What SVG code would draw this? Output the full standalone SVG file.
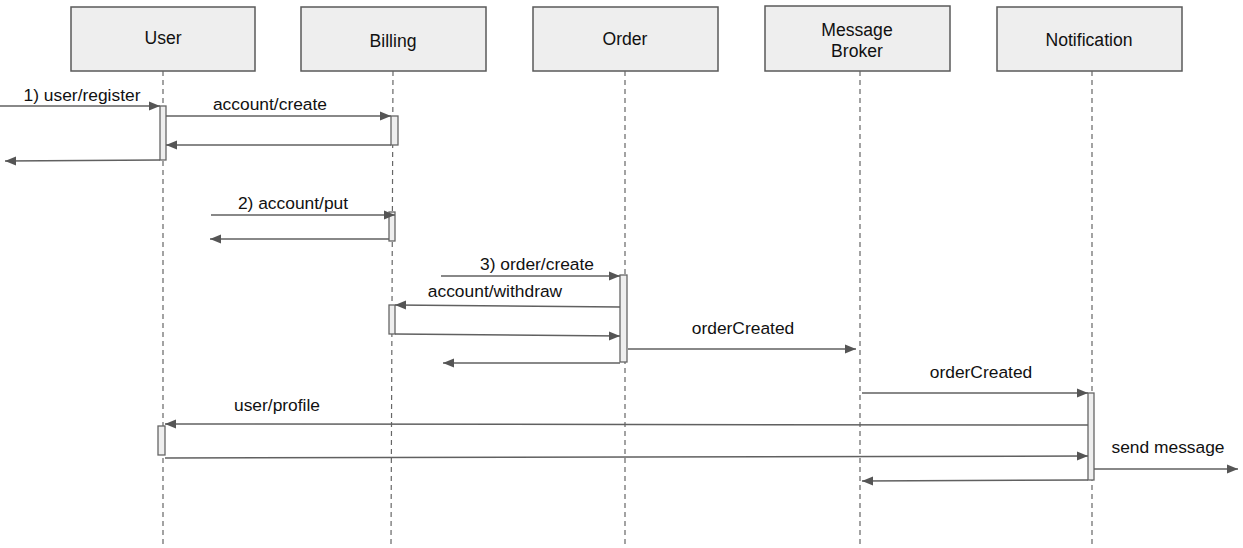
<svg xmlns="http://www.w3.org/2000/svg" width="1243" height="548" viewBox="0 0 1243 548">
<defs>
<style>
.box{fill:#eeeeee;stroke:#5a5a5a;stroke-width:1.5}
.life{stroke:#666;stroke-width:1.2;stroke-dasharray:5,4;fill:none}
.act{fill:#eeeeee;stroke:#666;stroke-width:1.3}
.msg{stroke:#606060;stroke-width:1.5;fill:none;marker-end:url(#ah)}
.hd{font-family:"Liberation Sans",Arial,sans-serif;font-size:17.6px;fill:#111;text-anchor:middle}
.lb{font-family:"Liberation Sans",Arial,sans-serif;font-size:17.4px;fill:#111;text-anchor:middle}
</style>
<marker id="ah" markerUnits="userSpaceOnUse" markerWidth="12" markerHeight="10" refX="11" refY="5" orient="auto">
<path d="M0,0.5 L11,5 L0,9.5 Z" fill="#555"/>
</marker>
</defs>
<rect width="1243" height="548" fill="#fff"/>
<g id="node-user">
<rect class="box" x="71" y="7" width="184" height="64"/>
<text class="hd" x="163" y="44">User</text>
<line class="life" x1="163" y1="71" x2="163" y2="545"/>
</g>
<g id="node-billing">
<rect class="box" x="301" y="7" width="185" height="64"/>
<text class="hd" x="393" y="47">Billing</text>
<line class="life" x1="393" y1="71" x2="391" y2="545"/>
</g>
<g id="node-order">
<rect class="box" x="533" y="7" width="185" height="64"/>
<text class="hd" x="625" y="45">Order</text>
<line class="life" x1="625" y1="71" x2="625" y2="545"/>
</g>
<g id="node-broker">
<rect class="box" x="765" y="6" width="185" height="65"/>
<text class="hd" x="857" y="36">Message</text>
<text class="hd" x="857" y="57">Broker</text>
<line class="life" x1="860" y1="71" x2="860" y2="545"/>
</g>
<g id="node-notification">
<rect class="box" x="997" y="7" width="185" height="64"/>
<text class="hd" x="1089" y="46">Notification</text>
<line class="life" x1="1092" y1="71" x2="1092" y2="545"/>
</g>
<g id="activations">
<rect class="act" x="160" y="106" width="6" height="54"/>
<rect class="act" x="391" y="116" width="7" height="29"/>
<rect class="act" x="389" y="212" width="6" height="29"/>
<rect class="act" x="620" y="275" width="7" height="87"/>
<rect class="act" x="389" y="305" width="6" height="29"/>
<rect class="act" x="1088" y="393" width="6" height="87"/>
<rect class="act" x="158" y="426" width="7" height="29"/>
</g>
<g id="connectors">
<line class="msg" x1="0" y1="106" x2="160" y2="106"/>
<text class="lb" x="82" y="101">1) user/register</text>
<line class="msg" x1="166" y1="116" x2="391" y2="116"/>
<text class="lb" x="270" y="110">account/create</text>
<line class="msg" x1="391" y1="145" x2="166" y2="145"/>
<line class="msg" x1="160" y1="160" x2="5" y2="161"/>
<line class="msg" x1="211" y1="215" x2="395" y2="215"/>
<text class="lb" x="293" y="209">2) account/put</text>
<line class="msg" x1="389" y1="239" x2="210" y2="239"/>
<line class="msg" x1="441" y1="276" x2="620" y2="276"/>
<text class="lb" x="537" y="270">3) order/create</text>
<line class="msg" x1="620" y1="307" x2="395" y2="305"/>
<text class="lb" x="495" y="297">account/withdraw</text>
<line class="msg" x1="395" y1="334" x2="620" y2="336"/>
<line class="msg" x1="628" y1="349" x2="856" y2="349"/>
<text class="lb" x="743" y="334">orderCreated</text>
<line class="msg" x1="620" y1="363" x2="443" y2="363"/>
<line class="msg" x1="862" y1="393" x2="1088" y2="393"/>
<text class="lb" x="981" y="378">orderCreated</text>
<line class="msg" x1="1088" y1="425" x2="165" y2="424"/>
<text class="lb" x="277" y="411">user/profile</text>
<line class="msg" x1="165" y1="458" x2="1088" y2="456"/>
<line class="msg" x1="1094" y1="469" x2="1238" y2="469"/>
<text class="lb" x="1168" y="453">send message</text>
<line class="msg" x1="1088" y1="480" x2="862" y2="481"/>
</g>
</svg>
